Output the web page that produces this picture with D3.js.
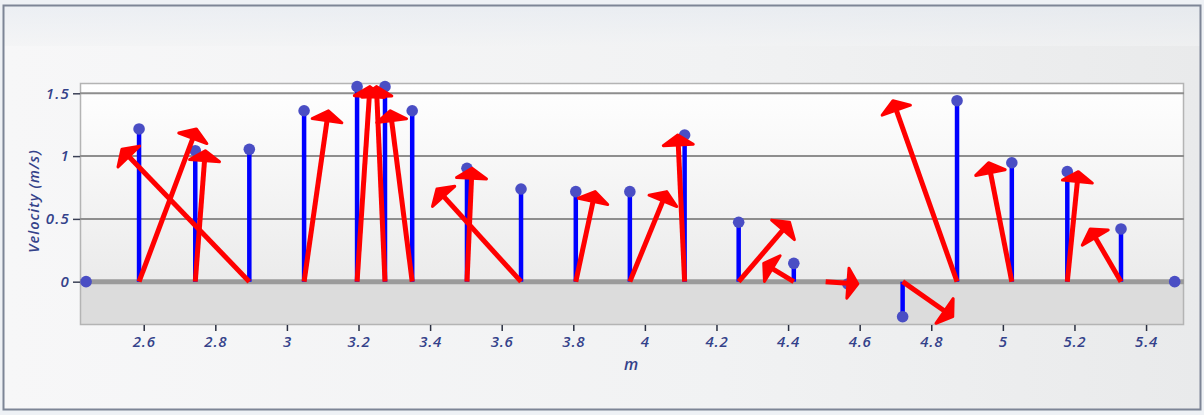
<!DOCTYPE html>
<html>
<head>
<meta charset="utf-8">
<script src="https://cdn.jsdelivr.net/npm/d3@7"></script>
<style>
  html, body { margin: 0; padding: 0; background: #f3f4f5; }
  svg { display: block; }
  .tick-label { font-family: "Open Sans", "DejaVu Sans", sans-serif; font-style: italic; font-weight: 600; fill: #34428a; }
</style>
</head>
<body>
<svg id="chart" width="1204" height="415"></svg>
<script>
// Particle positions along the medium (m) and their transverse velocity (m/s)
const position = [2.439, 2.587, 2.744, 2.895, 3.048, 3.196, 3.274, 3.350, 3.503, 3.654, 3.807,
                  3.958, 4.111, 4.262, 4.416, 4.567, 4.720, 4.872, 5.025, 5.180, 5.330, 5.480];
const velocity = [0, 1.216, 1.043, 1.054, 1.361, 1.553, 1.553, 1.361, 0.903, 0.738, 0.717,
                  0.717, 1.168, 0.473, 0.146, -0.018, -0.279, 1.441, 0.947, 0.876, 0.420, 0];

// Velocity vectors: horizontal start and end (m); vertical end is the particle velocity
const arrowFrom = [null, 2.587, 2.744, 2.895, 3.048, 3.196, 3.274, 3.350, 3.503, 3.654, 3.807,
                   3.958, 4.111, 4.262, 4.416, 4.505, 4.720, 4.872, 5.025, 5.180, 5.330, null];
const arrowTo   = [null, 2.747, 2.772, 2.539, 3.116, 3.232, 3.250, 3.289, 3.517, 3.419, 3.861,
                   4.061, 4.092, 4.404, 4.332, 4.595, 4.860, 4.693, 4.960, 5.211, 5.244, null];

const xTicks = [2.6, 2.8, 3.0, 3.2, 3.4, 3.6, 3.8, 4.0, 4.2, 4.4, 4.6, 4.8, 5.0, 5.2, 5.4];
const yTicks = [0, 0.5, 1, 1.5];

const W = 1204, H = 415;
const plot = { left: 80, right: 1184, top: 83, bottom: 325 };

const svg = d3.select("#chart");
const defs = svg.append("defs");

// panel background
const bg = defs.append("linearGradient").attr("id", "panelBg").attr("x1", 0).attr("x2", 1).attr("y1", 0).attr("y2", 0);
bg.append("stop").attr("offset", "0%").attr("stop-color", "#f7f7f8");
bg.append("stop").attr("offset", "60%").attr("stop-color", "#f1f2f3");
bg.append("stop").attr("offset", "100%").attr("stop-color", "#e9eaeb");

const topBand = defs.append("linearGradient").attr("id", "topBand").attr("x1", 0).attr("x2", 0).attr("y1", 0).attr("y2", 1);
topBand.append("stop").attr("offset", "0%").attr("stop-color", "#e4e9f0");
topBand.append("stop").attr("offset", "100%").attr("stop-color", "#f2f3f4");

const plotBg = defs.append("linearGradient").attr("id", "plotBg").attr("x1", 0).attr("x2", 0).attr("y1", 0).attr("y2", 1);
plotBg.append("stop").attr("offset", "0%").attr("stop-color", "#ffffff");
plotBg.append("stop").attr("offset", "100%").attr("stop-color", "#ebebeb");

svg.append("rect").attr("width", W).attr("height", H).attr("fill", "#eef1f5");
svg.append("rect").attr("x", 4).attr("y", 6).attr("width", W - 8).attr("height", H - 12).attr("fill", "url(#panelBg)");
svg.append("rect").attr("x", 4).attr("y", 6).attr("width", W - 8).attr("height", 40).attr("fill", "url(#topBand)").attr("opacity", 0.6);
svg.append("rect").attr("x", 3.5).attr("y", 5.5).attr("width", W - 7).attr("height", H - 11)
  .attr("fill", "none").attr("stroke", "#7d8596").attr("stroke-width", 2);

const x = d3.scaleLinear().domain([2.422, 5.506]).range([plot.left, plot.right]);
const y = d3.scaleLinear().domain([-0.345, 1.582]).range([plot.bottom, plot.top]);

// plot area: light above zero, grey band below zero
svg.append("rect").attr("x", plot.left).attr("y", plot.top)
  .attr("width", plot.right - plot.left).attr("height", y(0) - plot.top).attr("fill", "url(#plotBg)");
svg.append("rect").attr("x", plot.left).attr("y", y(0))
  .attr("width", plot.right - plot.left).attr("height", plot.bottom - y(0)).attr("fill", "#dcdcdc");
svg.append("rect").attr("x", plot.left + 0.5).attr("y", plot.top + 0.5)
  .attr("width", plot.right - plot.left - 1).attr("height", plot.bottom - plot.top - 1)
  .attr("fill", "none").attr("stroke", "#b4b4b4").attr("stroke-width", 1.5);

// horizontal grid lines
svg.append("g").selectAll("line").data(yTicks.filter(d => d !== 0)).join("line")
  .attr("x1", plot.left).attr("x2", plot.right)
  .attr("y1", d => y(d)).attr("y2", d => y(d))
  .attr("stroke", "#8e8e8e").attr("stroke-width", 2);

// zero line
svg.append("line").attr("x1", plot.left).attr("x2", plot.right)
  .attr("y1", y(0)).attr("y2", y(0)).attr("stroke", "#9b9b9b").attr("stroke-width", 5);

// axes
const yAxis = svg.append("g").attr("transform", `translate(${plot.left},0)`)
  .call(d3.axisLeft(y).tickValues(yTicks).tickSize(7).tickPadding(3).tickFormat(d3.format("")));
yAxis.select(".domain").remove();
yAxis.selectAll(".tick line").attr("stroke", "#3a3f55").attr("stroke-width", 1.5);
yAxis.selectAll(".tick text").attr("class", "tick-label").attr("font-size", 15).attr("letter-spacing", 1.2);

const xAxis = svg.append("g").attr("transform", `translate(0,${plot.bottom})`)
  .call(d3.axisBottom(x).tickValues(xTicks).tickSize(6).tickPadding(5).tickFormat(d3.format("")));
xAxis.select(".domain").remove();
xAxis.selectAll(".tick line").attr("stroke", "#2a2f40").attr("stroke-width", 1.5);
xAxis.selectAll(".tick text").attr("class", "tick-label").attr("font-size", 15).attr("letter-spacing", 0.8);

svg.append("text").attr("class", "tick-label")
  .attr("x", 631).attr("y", 370).attr("text-anchor", "middle").attr("font-size", 16)
  .text("m");
svg.append("text").attr("class", "tick-label")
  .attr("transform", "translate(39,201) rotate(-90)")
  .attr("text-anchor", "middle").attr("font-size", 14.5).attr("letter-spacing", 1)
  .text("Velocity (m/s)");

// stems and particle dots
const pts = position.map((p, i) => ({ p, v: velocity[i] }));
svg.append("g").selectAll("line").data(pts).join("line")
  .attr("x1", d => x(d.p)).attr("x2", d => x(d.p))
  .attr("y1", y(0)).attr("y2", d => y(d.v))
  .attr("stroke", "#0000ff").attr("stroke-width", 4.5);
svg.append("g").selectAll("circle").data(pts).join("circle")
  .attr("cx", d => x(d.p)).attr("cy", d => y(d.v)).attr("r", 5.8)
  .attr("fill", "#4a4ec4");

// velocity arrows
const arrows = position.map((p, i) => ({ x0: arrowFrom[i], x1: arrowTo[i], v: velocity[i] }))
  .filter(d => d.x0 !== null && d.x1 !== null);
const headLen = 10, headHalf = 15;
const ag = svg.append("g");
arrows.forEach(d => {
  const sx = x(d.x0), sy = y(0), tx = x(d.x1), ty = y(d.v);
  const dx = tx - sx, dy = ty - sy, len = Math.hypot(dx, dy);
  const ux = dx / len, uy = dy / len;
  const bx = tx - ux * headLen, by = ty - uy * headLen;
  const px = -uy, py = ux;
  ag.append("line").attr("x1", sx).attr("y1", sy).attr("x2", bx).attr("y2", by)
    .attr("stroke", "#ff0000").attr("stroke-width", 5);
  const path = d3.path();
  path.moveTo(tx, ty);
  path.lineTo(bx + px * headHalf, by + py * headHalf);
  path.lineTo(bx - px * headHalf, by - py * headHalf);
  path.closePath();
  ag.append("path").attr("d", path.toString())
    .attr("fill", "#ff0000").attr("stroke", "#ff0000").attr("stroke-width", 3)
    .attr("stroke-linejoin", "round");
});
</script>
</body>
</html>
